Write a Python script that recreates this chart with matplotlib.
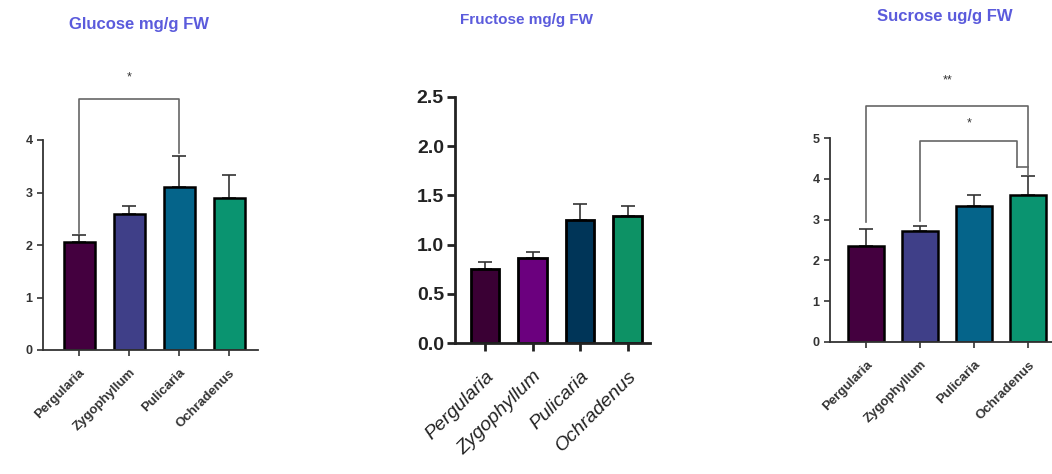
import matplotlib.pyplot as plt

plt.rcParams['font.family'] = ['Liberation Sans', 'DejaVu Sans']

species = ["Pergularia", "Zygophyllum", "Pulicaria", "Ochradenus"]

glucose_mean = [2.05, 2.6, 3.1, 2.9]
glucose_err = [0.15, 0.15, 0.6, 0.43]

fructose_mean = [0.75, 0.86, 1.25, 1.29]
fructose_err = [0.07, 0.06, 0.16, 0.1]

sucrose_mean = [2.35, 2.72, 3.33, 3.6]
sucrose_err = [0.42, 0.13, 0.27, 0.47]

colors_a = ["#44003f", "#3f3f88", "#05648a", "#0a9470"]
colors_b = ["#3a0034", "#6b007e", "#003558", "#0d9265"]

W, H = 1052, 474
fig = plt.figure(figsize=(W / 100, H / 100), dpi=100)
title_color = "#5b5bdc"


def make_axes(x0, x1, y0, ppu, ymax, xleft, xright):
    # pixel layout -> figure fractions
    top = y0 - ymax * ppu
    ax = fig.add_axes([x0 / W, (H - y0) / H, (x1 - x0) / W, (y0 - top) / H])
    ax.set_ylim(0, ymax)
    ax.set_xlim(xleft, xright)
    for s in ["top", "right"]:
        ax.spines[s].set_visible(False)
    return ax


def draw_bars(ax, mean, err, colors, width, lw):
    x = range(len(mean))
    ax.bar(x, mean, width=width, color=colors, edgecolor="black", linewidth=lw, zorder=2)
    ax.errorbar(x, mean, yerr=[[0] * len(err), err], fmt="none", ecolor="#333333",
                elinewidth=1.2, capsize=5, capthick=1.2, zorder=1)


def bracket(ax, x1, x2, y, h1, h2, color="#666666"):
    ax.plot([x1, x1, x2, x2], [h1, y, y, h2], color=color, lw=1.2, zorder=3)


def small_panel_style(ax):
    ax.set_xticks(range(4))
    ax.set_xticklabels(species, rotation=45, ha="right", rotation_mode="anchor",
                       fontsize=9.5, fontweight="bold", color="#3a3a3a")
    for lab in ax.get_yticklabels():
        lab.set_fontsize(9)
        lab.set_fontweight("bold")
        lab.set_color("#333333")
    ax.tick_params(width=1.2, length=4, colors="#333333")
    ax.tick_params(axis="x", pad=8)
    for s in ["left", "bottom"]:
        ax.spines[s].set_linewidth(1.3)
        ax.spines[s].set_color("#333333")


# Glucose
ax1 = make_axes(43, 258, 350, 52.5, 6.0, -0.72, 3.58)
draw_bars(ax1, glucose_mean, glucose_err, colors_a, 0.62, 1.8)
ax1.spines["left"].set_bounds(0, 4)
ax1.set_yticks([0, 1, 2, 3, 4])
small_panel_style(ax1)
bracket(ax1, 0, 2, 4.78, 2.22, 3.75)
ax1.text(1, 5.2, "*", ha="center", va="center", fontsize=9, color="#333333")
fig.text(139 / W, 1 - 25 / H, "Glucose mg/g FW", ha="center", va="center",
         fontsize=12, fontweight="bold", color=title_color)

# Fructose
ax2 = make_axes(455, 650, 343, 98.4, 2.55, -0.63, 3.47)
draw_bars(ax2, fructose_mean, fructose_err, colors_b, 0.6, 2.0)
ax2.spines["left"].set_bounds(0, 2.5)
ax2.set_yticks([0, 0.5, 1.0, 1.5, 2.0, 2.5])
ax2.set_yticklabels(["0.0", "0.5", "1.0", "1.5", "2.0", "2.5"],
                    fontsize=14, fontweight="bold", color="#222222")
ax2.set_xticks(range(4))
ax2.set_xticklabels(species, rotation=45, ha="right", rotation_mode="anchor",
                    fontsize=14, fontstyle="italic", color="#222222")
ax2.tick_params(width=2, length=6, colors="#222222", pad=2)
ax2.tick_params(axis="x", pad=12)
for s in ["left", "bottom"]:
    ax2.spines[s].set_linewidth(2)
    ax2.spines[s].set_color("#222222")
fig.text(526 / W, 1 - 20 / H, "Fructose mg/g FW", ha="center", va="center",
         fontsize=11, fontweight="bold", color=title_color)

# Sucrose
ax3 = make_axes(830, 1052, 342, 40.8, 6.8, -0.67, 3.44)
draw_bars(ax3, sucrose_mean, sucrose_err, colors_a, 0.66, 1.8)
ax3.spines["left"].set_bounds(0, 5)
ax3.set_yticks([0, 1, 2, 3, 4, 5])
small_panel_style(ax3)
bracket(ax3, 0, 3, 5.78, 2.95, 4.1)
bracket(ax3, 1, 2.8, 4.93, 2.97, 4.3)
ax3.plot([2.8, 3.0], [4.3, 4.3], color="#666666", lw=1.2, zorder=3)
ax3.text(1.5, 6.4, "**", ha="center", va="center", fontsize=9, color="#333333")
ax3.text(1.9, 5.35, "*", ha="center", va="center", fontsize=9, color="#333333")
fig.text(945 / W, 1 - 17 / H, "Sucrose ug/g FW", ha="center", va="center",
         fontsize=12, fontweight="bold", color=title_color)

fig.savefig("out.png", dpi=100)
